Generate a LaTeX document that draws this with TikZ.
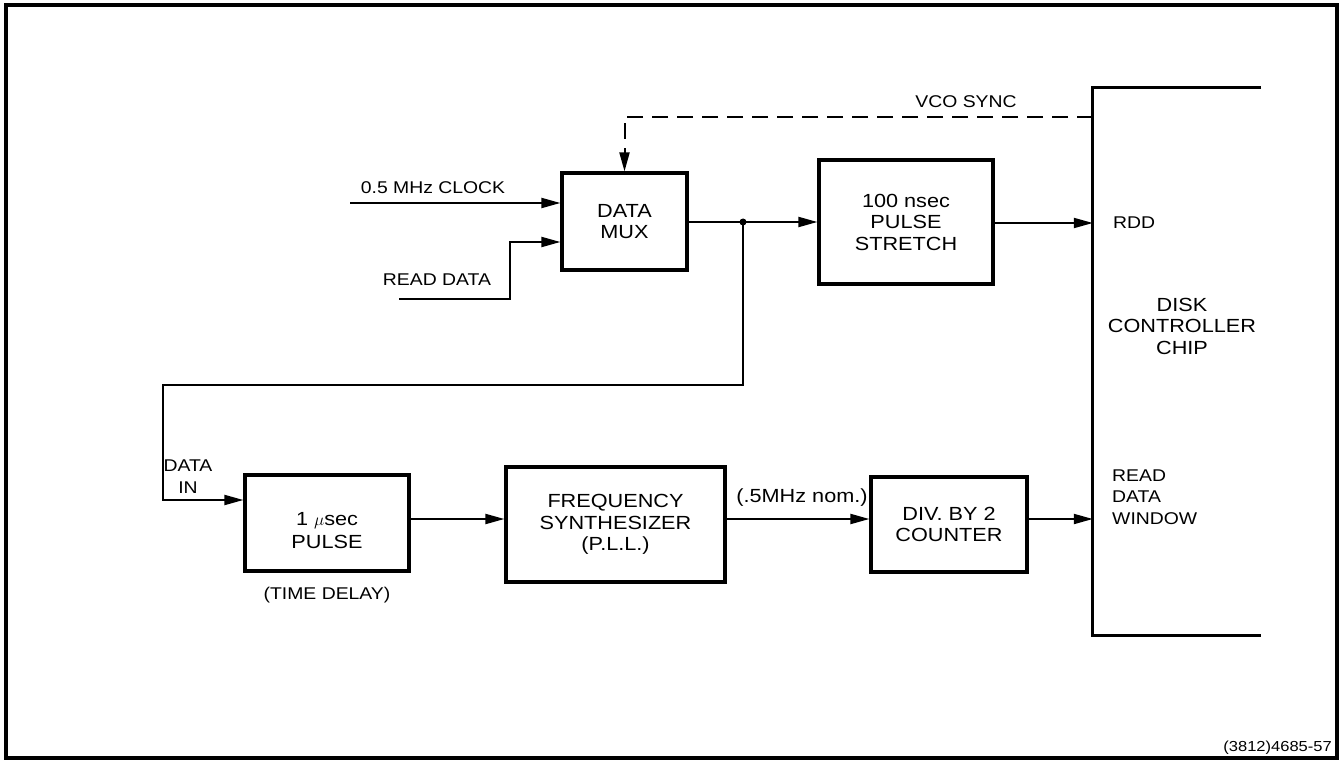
\documentclass[tikz,border=0pt]{standalone}
\usepackage{fontspec}
\setmainfont{Liberation Sans}[FakeStretch=1.14]
\usetikzlibrary{arrows.meta}
\newcommand{\boxfont}{\fontsize{19}{21.5}\selectfont}
\newcommand{\labfont}{\fontsize{17}{21.5}\selectfont}
\tikzset{
  blk/.style={draw, line width=3.2pt, rectangle, align=center, inner sep=0pt, font=\boxfont},
  conn/.style={line width=2pt, -{Triangle[length=19pt,width=10pt]}},
  lab/.style={inner sep=0pt, align=center, font=\labfont},
}
\begin{document}
\begin{tikzpicture}[x=1pt,y=-1pt]
\useasboundingbox (0,0) rectangle (1341,762);
% frame
\draw[line width=3.5pt] (6,5) rectangle (1337,758);

% blocks
\node[blk, minimum width=125pt, minimum height=97pt] (mux) at (624.5,221.5) {DATA\\MUX};
\node[blk, minimum width=174pt, minimum height=124pt] (ps) at (906,222) {100 nsec\\PULSE\\STRETCH};
\node[blk, minimum width=164pt, minimum height=96pt] (p1) at (327,523) {};
\node[lab, font=\fontsize{19}{23}\selectfont] (p1lab) at (327,531) {1 $\mu$sec\\PULSE};
\node[blk, minimum width=219pt, minimum height=115pt] (fs) at (615.5,524.5) {FREQUENCY\\SYNTHESIZER\\(P.L.L.)};
\node[blk, minimum width=156pt, minimum height=95pt] (div) at (949,524.5) {DIV. BY 2\\COUNTER};
\node[draw=none, minimum width=168pt, minimum height=547pt, inner sep=0pt] (chip) at (1177,361.5) {};
\draw[line width=3.2pt] (chip.north east) -- (chip.north west) -- (chip.south west) -- (chip.south east);
\node[lab, font=\boxfont] (chiplab) at (1182,326) {DISK\\CONTROLLER\\CHIP};

% inputs
\coordinate (clk) at (350,203);
\draw[conn] (clk) -- (clk -| mux.west);
\node[lab] (clklab) at (433,188) {0.5 MHz CLOCK};
\coordinate (rd) at (399,299);
\coordinate (rdin) at (510,242);
\draw[conn] (rd) -| (rdin) -- (rdin -| mux.west);
\node[lab] (rdlab) at (437,280) {READ DATA};

% VCO sync
\coordinate (vco) at (1093,117);
\draw[conn, dash pattern=on 16pt off 9pt] (vco) -| (mux.north);
\node[lab] (vcolab) at (966,102) {VCO SYNC};

% mux -> pulse stretch with junction
\coordinate (j) at (743,222);
\draw[conn] (mux.east |- j) -- (j -| ps.west);
\fill (j) circle (3.5pt);
\coordinate (loopa) at (743,385);
\coordinate (loopb) at (163,500);
\draw[conn] (j) -- (loopa) -| (loopb) -- (loopb -| p1.west);
\node[lab] (dinlab) at (188,476.5) {DATA\\IN};

% pulse stretch -> chip
\draw[conn] (ps.east |- 0,223) -- (chip.west |- 0,223);
\node[lab, anchor=west] (rddlab) at (1113,223) {RDD};

% bottom chain
\coordinate (row) at (0,519);
\draw[conn] (p1.east |- row) -- (fs.west |- row);
\draw[conn] (fs.east |- row) -- (div.west |- row);
\draw[conn] (div.east |- row) -- (chip.west |- row);
\node[lab] (tdlab) at (327,595) {(TIME DELAY)};
\node[lab, font=\fontsize{19}{21.5}\selectfont] (nomlab) at (802,498) {(.5MHz nom.)};
\node[lab, anchor=west, align=left] (rdwlab) at (1112,497) {READ\\DATA\\WINDOW};

% figure number
\node[lab, anchor=east, font=\fontsize{14.5}{17}\selectfont] (fignum) at (1332,748) {(3812)4685-57};
\end{tikzpicture}
\end{document}
